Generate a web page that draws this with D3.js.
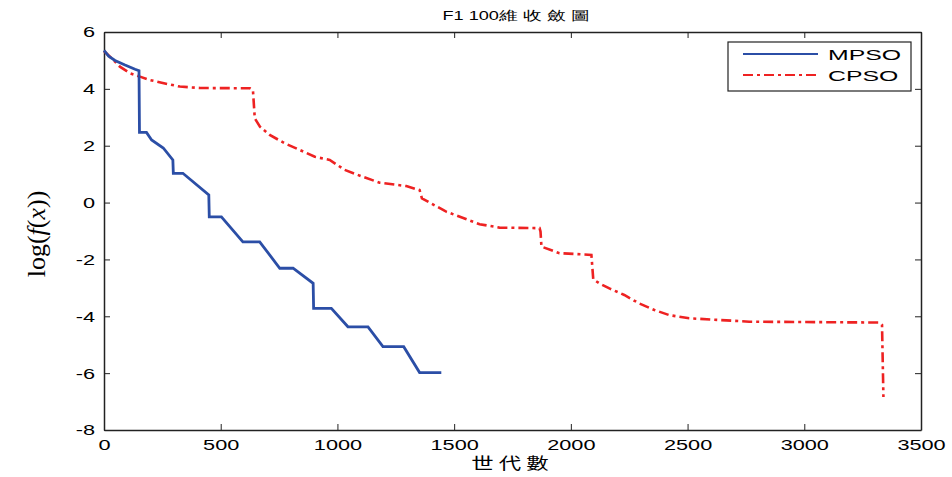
<!DOCTYPE html>
<html lang="zh-Hant">
<head>
<meta charset="UTF-8">
<title>F1 100維 收斂圖</title>
<style>
  body { margin: 0; background: #fff; }
</style>
</head>
<body>
<script src="https://cdn.jsdelivr.net/npm/d3@7"></script>
<script>
// 資料: [世代, log(f(x))]
const mpso = [
  [0, 5.35], [20, 5.15], [47, 5.0], [90, 4.84], [133, 4.69], [150, 4.64],
  [152, 2.47], [182, 2.47], [204, 2.2], [254, 1.92], [295, 1.5],
  [297, 1.03], [338, 1.03], [449, 0.27],
  [451, -0.5], [503, -0.5], [595, -1.38], [667, -1.38], [753, -2.31],
  [810, -2.31], [896, -2.84], [898, -3.72], [974, -3.72], [1045, -4.37],
  [1131, -4.37], [1195, -5.07], [1284, -5.07], [1352, -5.98], [1445, -5.98]
];
const cpso = [
  [0, 5.33], [47, 4.96], [68, 4.78], [111, 4.55], [154, 4.43], [197, 4.31],
  [261, 4.19], [325, 4.08], [411, 4.03], [625, 4.02], [638, 3.96],
  [646, 2.96], [668, 2.67], [710, 2.38], [775, 2.08], [839, 1.85],
  [903, 1.61], [967, 1.5], [1031, 1.15], [1108, 0.91], [1181, 0.7],
  [1295, 0.58], [1352, 0.44], [1362, 0.15], [1466, -0.32], [1609, -0.76],
  [1694, -0.88], [1866, -0.9], [1870, -1.02], [1874, -1.55], [1951, -1.78],
  [2088, -1.84], [2096, -2.7], [2122, -2.84], [2165, -3.02], [2229, -3.25],
  [2293, -3.55], [2358, -3.78], [2422, -3.96], [2507, -4.07], [2636, -4.13],
  [2764, -4.19], [3320, -4.22], [3333, -4.3], [3339, -6.84]
];
const xTicks = [0, 500, 1000, 1500, 2000, 2500, 3000, 3500];
const yTicks = [-8, -6, -4, -2, 0, 2, 4, 6];

const w = 952, h = 477;
const mLeft = 104, mRight = 921, mTop = 32, mBottom = 430;
const sans = '"Liberation Sans", Arial, sans-serif';
const stretch = 1.4; // 原圖文字被水平拉寬

const svg = d3.select('body').append('svg')
  .attr('width', w).attr('height', h);

const xScale = d3.scaleLinear().domain([0, 3500]).range([mLeft, mRight]);
const yScale = d3.scaleLinear().domain([-8, 6]).range([mBottom, mTop]);

// 拉寬文字
function widen(sel, k) {
  sel.each(function () {
    const len = this.getComputedTextLength();
    if (len > 0) {
      d3.select(this).attr('textLength', len * k).attr('lengthAdjust', 'spacingAndGlyphs');
    }
  });
}

// 軸 (刻度向內, 四邊)
const tick = 6;
const fmt = d => String(d);
svg.append('g').attr('transform', `translate(0,${mBottom})`)
  .call(d3.axisBottom(xScale).tickValues(xTicks).tickFormat(fmt).tickSizeInner(-tick).tickSizeOuter(0).tickPadding(9));
svg.append('g').attr('transform', `translate(0,${mTop})`)
  .call(d3.axisTop(xScale).tickValues(xTicks).tickSizeInner(-tick).tickSizeOuter(0).tickFormat(''));
svg.append('g').attr('transform', `translate(${mLeft},0)`)
  .call(d3.axisLeft(yScale).tickValues(yTicks).tickFormat(fmt).tickSizeInner(-tick).tickSizeOuter(0).tickPadding(9));
svg.append('g').attr('transform', `translate(${mRight},0)`)
  .call(d3.axisRight(yScale).tickValues(yTicks).tickSizeInner(-tick).tickSizeOuter(0).tickFormat(''));

svg.selectAll('.domain').attr('stroke', '#222').attr('stroke-width', 1.5);
svg.selectAll('.tick line').attr('stroke', '#222');
svg.selectAll('.tick text').attr('font-size', 15.5).attr('fill', '#000')
  .attr('font-family', sans)
  .call(widen, stretch);

const line = d3.line().x(d => xScale(d[0])).y(d => yScale(d[1]));

svg.append('path').datum(cpso)
  .attr('d', line).attr('fill', 'none')
  .attr('stroke', '#ee2222').attr('stroke-width', 2.6)
  .attr('stroke-dasharray', '10,4,3,4');

svg.append('path').datum(mpso)
  .attr('d', line).attr('fill', 'none')
  .attr('stroke', '#2b4ea6').attr('stroke-width', 2.8);

// 標題
svg.append('text').text('F1 100維 收 斂 圖')
  .attr('x', 516).attr('y', 20).attr('text-anchor', 'middle')
  .attr('font-size', 12.5).attr('font-family', sans)
  .call(widen, 1.45);

// x 軸標籤
svg.append('text').text('世 代 數')
  .attr('x', 510).attr('y', 469).attr('text-anchor', 'middle')
  .attr('font-size', 16)
  .attr('font-family', '"Noto Sans CJK TC", sans-serif')
  .call(widen, 1.4);

// y 軸標籤
const yl = svg.append('text')
  .attr('transform', 'translate(45,234) rotate(-90)')
  .attr('text-anchor', 'middle')
  .attr('font-size', 26)
  .attr('font-family', '"Liberation Serif", "DejaVu Serif", serif');
yl.append('tspan').text('log(');
yl.append('tspan').text('f').attr('font-style', 'italic');
yl.append('tspan').text('(');
yl.append('tspan').text('x').attr('font-style', 'italic');
yl.append('tspan').text('))');

// 圖例
const legend = svg.append('g');
legend.append('rect')
  .attr('x', 728).attr('y', 42).attr('width', 183).attr('height', 49)
  .attr('fill', '#fff').attr('stroke', '#222').attr('stroke-width', 1.2);
const items = [
  { name: 'MPSO', color: '#2b4ea6', dash: null, y: 54 },
  { name: 'CPSO', color: '#ee2222', dash: '10,4,3,4', y: 75 }
];
items.forEach(it => {
  legend.append('line')
    .attr('x1', 743).attr('x2', 818).attr('y1', it.y).attr('y2', it.y)
    .attr('stroke', it.color).attr('stroke-width', 2)
    .attr('stroke-dasharray', it.dash);
  legend.append('text').text(it.name)
    .attr('x', 828).attr('y', it.y + 6)
    .attr('font-size', 15.5).attr('font-family', sans)
    .call(widen, 1.6);
});
</script>
</body>
</html>
